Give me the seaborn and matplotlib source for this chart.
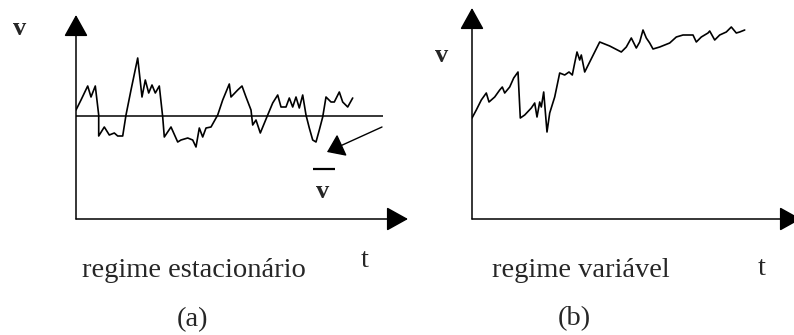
import matplotlib
matplotlib.use("Agg")
import matplotlib.pyplot as plt
import seaborn as sns
import pandas as pd

# (a) steady regime: velocity fluctuating around a constant mean
t_a = [0, 5, 11.7, 15, 19.3, 22.7, 22.7, 28.3, 33.3, 38.3, 41.7, 46.7, 50, 55,
       61.7, 66, 69.3, 72.7, 76, 79.3, 83.3, 86.7, 88.3, 95, 101.7, 105, 111.7,
       116.7, 120, 123.3, 126.7, 130, 135, 141.7, 146.7, 153.3, 155, 161.7, 166,
       170, 175, 176.7, 180, 184.3, 191.7, 196.7, 201.7, 205, 210, 213.3, 216.7,
       220, 223.3, 226.7, 230, 233.3, 236.7, 240, 243.3, 246.7, 250, 255, 258.3,
       263.3, 266.7, 271.7, 276.7]
v_a = [109, 119, 133, 122, 133, 104, 83, 92, 84, 86, 83, 83, 104, 129,
       161, 122, 139, 126, 134, 126, 133, 102, 82, 92, 77, 79, 81,
       79, 72, 91, 82, 91, 92, 104, 119, 135, 122, 129, 133,
       122, 109, 94, 99, 86, 104, 116, 124, 112, 112, 121, 112,
       122, 111, 124, 104, 91, 79, 77, 89, 102, 122, 117, 117,
       127, 117, 112, 121]
mean_a = 103
mean_end = 307

# (b) variable regime: velocity drifting upward
t_b = [0, 4.3, 9.3, 14.3, 17, 22.7, 27.7, 30.3, 32.7, 37.7, 41.7, 46, 48.3,
       52.7, 59.3, 62.7, 65, 67.7, 69.3, 71.7, 75, 77.7, 82.7, 87.7, 92.7, 97,
       100.3, 102.7, 105, 107.7, 109.3, 112.7, 117.7, 122.7, 127.7, 137.7,
       149.3, 154.3, 159.3, 164.3, 167.7, 171, 174.3, 177.7, 181, 187.7, 197.7,
       204.3, 211, 221, 224.3, 229.3, 236, 237.7, 242.7, 247.7, 254.3, 259.3,
       264.3, 267.7, 272.7]
v_b = [101, 109, 119, 126, 117, 122, 129, 132, 126, 132, 141, 147, 101,
       104, 111, 116, 102, 117, 112, 127, 87, 106, 122, 146, 144, 147,
       144, 156, 167, 159, 164, 147, 157, 167, 177, 173,
       167, 172, 181, 171, 177, 189, 181, 176, 170, 172, 176,
       182, 184, 184, 177, 182, 186, 188, 179, 184, 187, 192,
       186, 187, 189]

W, H = 794, 335
sns.set_theme(style="white")
plt.rcParams["font.family"] = ["Liberation Serif", "DejaVu Serif"]

fig = plt.figure(figsize=(W / 100, H / 100), dpi=100)
fig.patch.set_facecolor("white")


def frac(x, y):
    return x / W, 1 - y / H


def make_axes(x0, y0, x1, y1):
    # axes box spanning from the origin (x0, y0) to the arrow tips (x1, y1), in pixels
    ax = fig.add_axes([x0 / W, 1 - y0 / H, (x1 - x0) / W, (y0 - y1) / H])
    ax.set_xlim(0, x1 - x0)
    ax.set_ylim(0, y0 - y1)
    ax.axis("off")
    return ax


def draw_axis_arrows(ax, head_len, head_w):
    style = f"-|>,head_length={head_len},head_width={head_w}"
    kw = dict(xycoords="axes fraction", textcoords="axes fraction",
              arrowprops=dict(arrowstyle=style, mutation_scale=10, color="black",
                              lw=1.1, shrinkA=0, shrinkB=0), annotation_clip=False)
    ax.annotate("", xy=(1, 0), xytext=(0, 0), **kw)
    ax.annotate("", xy=(0, 1), xytext=(0, 0), **kw)


ax_a = make_axes(76, 219, 408, 15)
ax_b = make_axes(472, 219, 801, 8)

draw_axis_arrows(ax_a, 1.35, 0.75)
draw_axis_arrows(ax_b, 1.35, 0.75)

df_a = pd.DataFrame({"t": t_a, "v": v_a})
df_b = pd.DataFrame({"t": t_b, "v": v_b})
sns.lineplot(data=df_a, x="t", y="v", ax=ax_a, color="black", lw=1.2,
             sort=False, estimator=None)
sns.lineplot(data=df_b, x="t", y="v", ax=ax_b, color="black", lw=1.2,
             sort=False, estimator=None)
ax_a.hlines(mean_a, 0, mean_end, color="black", lw=1.1)

# arrow pointing at the mean, with the v-bar label
ax_a.annotate("", xy=(251, 67), xytext=(306, 92),
              arrowprops=dict(arrowstyle="-|>,head_length=1.05,head_width=0.75",
                              mutation_scale=10, color="black", lw=1.0,
                              shrinkA=0, shrinkB=0))
ax_a.hlines(50, 237, 259, color="black", lw=1.6)

bold = dict(fontsize=19, fontweight="bold", ha="center", va="baseline")
norm = dict(fontsize=20.5, ha="center", va="baseline")

fig.text(*frac(323, 198), "v", **bold)
fig.text(*frac(20, 35), "v", **bold)
fig.text(*frac(442, 62), "v", **bold)

fig.text(*frac(194, 277), "regime estacionário", **norm)
fig.text(*frac(365, 267), "t", **norm)
fig.text(*frac(192, 326), "(a)", **norm)

fig.text(*frac(581, 277), "regime variável", **norm)
fig.text(*frac(762, 275), "t", **norm)
fig.text(*frac(574, 325), "(b)", **norm)

fig.savefig("out.png", dpi=100, facecolor="white")
